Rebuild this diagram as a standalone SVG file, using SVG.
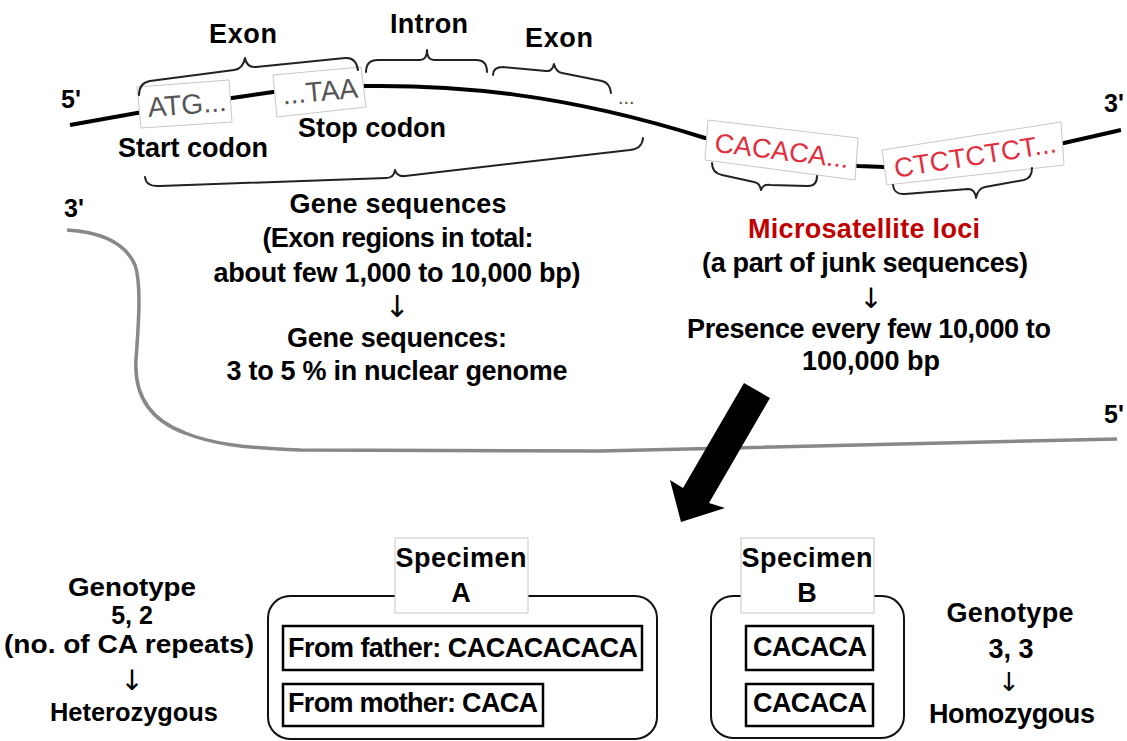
<svg xmlns="http://www.w3.org/2000/svg" width="1127" height="741" viewBox="0 0 1127 741">
<style>
text{font-family:"Liberation Sans",Arial,sans-serif;}
.b{font-weight:bold;font-size:27px;fill:#000;}
.s{font-weight:bold;font-size:25px;fill:#000;}
.m{text-anchor:middle;}
.end{font-weight:bold;font-size:25px;fill:#000;}
.seq{font-size:28px;fill:#555;}
.red{font-size:27px;fill:#e0303f;}
.brace{fill:none;stroke:#222;stroke-width:2;stroke-linejoin:round;stroke-linecap:round;}
.sbox{fill:#fff;stroke:#c8c8c8;stroke-width:1;}
.outer{fill:none;stroke:#111;stroke-width:2;}
.inner{fill:#fff;stroke:#000;stroke-width:2.5;}
.arr{font-family:"DejaVu Sans",sans-serif;fill:#000;text-anchor:middle;}
</style>

<g id="strands">
  <path d="M70,125 L137,113 L232,98 L273,92 L366,86 C450,85 560,92 705,138 L858,166 L884,167 L1064,143 L1121,130" fill="none" stroke="#000" stroke-width="4" stroke-linejoin="round"/>
  <path d="M67,230 C100,232 125,242 135,265 C142,285 138,330 136,360 C134,395 150,420 185,433 C210,443 240,448 300,450 L600,451 L1117,439" fill="none" stroke="#888" stroke-width="3.5"/>
</g>

<g id="end-labels">
  <text class="end" x="61" y="108">5'</text>
  <text class="end" x="1104" y="112">3'</text>
  <text class="end" x="64" y="217">3'</text>
  <text class="end" x="1104" y="423">5'</text>
</g>

<g id="atg">
  <polygon class="sbox" points="137,87 229,80 232,122 141,128"/>
  <text class="seq m" x="187" y="114" transform="rotate(-4.3 187 104)">ATG...</text>
</g>
<g id="taa">
  <polygon class="sbox" points="273,75 361,67 366,107 277,117"/>
  <text class="seq m" x="320" y="101" transform="rotate(-5.2 320 91)">...TAA</text>
</g>
<g id="ca-repeat">
  <polygon class="sbox" points="708,120 858,138 855,180 705,160"/>
  <text class="red m" x="782" y="160" transform="rotate(7 782 150)">CACACA...</text>
</g>
<g id="ct-repeat">
  <polygon class="sbox" points="882,150 1061,122 1064,165 887,185"/>
  <text class="red m" x="975" y="165" transform="rotate(-9 975 155)">CTCTCTCT...</text>
</g>
<text x="618" y="104" font-size="20" fill="#555">...</text>

<g id="braces">
  <path class="brace" d="M139,95 Q139,83 150,81 L234,70 Q243,69 245,58 Q247,68 256,67 L345,58 Q356,57 358,70"/>
  <path class="brace" d="M366,72 Q366,60 378,60 L420,60 Q427,60 427,50 Q427,60 434,60 L476,60 Q487,60 487,72"/>
  <path class="brace" d="M493,75 Q493,67 503,67 L546,71 Q552,72 554,64 Q556,72 562,73 L602,81 Q610,83 611,93"/>
  <path class="brace" d="M145,177 Q146,187 160,186 L386,178 Q394,178 395,170 Q397,177 405,176 L630,150 Q642,149 643,138"/>
  <path class="brace" d="M712,163 Q712,173 722,175 L754,182 Q760,183 761,190 Q763,184 770,185 L808,186 Q817,186 817,176"/>
  <path class="brace" d="M893,185 Q894,195 905,194 L968,189 Q975,189 976,198 Q978,188 985,187 L1024,180 Q1032,178 1032,168"/>
</g>

<g id="region-labels">
  <text class="b m" x="243" y="43" textLength="68">Exon</text>
  <text class="b m" x="429" y="33" textLength="78">Intron</text>
  <text class="b m" x="559" y="47" textLength="68">Exon</text>
  <text class="b m" x="193" y="157" textLength="150">Start codon</text>
  <text class="b m" x="372" y="137" textLength="148">Stop codon</text>
</g>

<g id="gene-info">
  <text class="b m" x="398" y="213" textLength="217">Gene sequences</text>
  <text class="b m" x="398" y="247" textLength="271">(Exon regions in total:</text>
  <text class="b m" x="397" y="282" textLength="367">about few 1,000 to 10,000 bp)</text>
  <text class="arr" x="397" y="317" font-size="30">↓</text>
  <text class="b m" x="397" y="347" textLength="220">Gene sequences:</text>
  <text class="b m" x="397" y="380" textLength="341">3 to 5 % in nuclear genome</text>
</g>

<g id="microsat-info">
  <text class="b m" x="864" y="238" textLength="232" style="fill:#c00000">Microsatellite loci</text>
  <text class="b m" x="865" y="272" textLength="326">(a part of junk sequences)</text>
  <text class="arr" x="871" y="308" font-size="28">↓</text>
  <text class="b m" x="869" y="338" textLength="364">Presence every few 10,000 to</text>
  <text class="b m" x="871" y="370" textLength="138">100,000 bp</text>
</g>

<g id="connectors">
  <polygon points="744,383 770,398 709,503 725,508 681,522 670,480 683,488" fill="#000"/>
</g>

<g id="genotype-a">
  <text class="s m" x="132" y="596" textLength="128" lengthAdjust="spacingAndGlyphs">Genotype</text>
  <text class="s m" x="132" y="624">5, 2</text>
  <text class="s m" x="129" y="653" textLength="250" lengthAdjust="spacingAndGlyphs">(no. of CA repeats)</text>
  <text class="arr" x="132" y="690" font-size="28">↓</text>
  <text class="s m" x="134" y="721" textLength="168" lengthAdjust="spacingAndGlyphs">Heterozygous</text>
</g>

<g id="specimen-a">
  <rect class="outer" x="268" y="596" width="389" height="143" rx="22"/>
  <rect class="sbox" x="395" y="538" width="133" height="75"/>
  <text class="b m" x="461" y="567" textLength="131">Specimen</text>
  <text class="b m" x="461" y="602">A</text>
  <rect class="inner" x="283" y="626" width="359" height="44"/>
  <text class="b" x="288" y="657" textLength="350">From father: CACACACACA</text>
  <rect class="inner" x="283" y="684" width="260" height="42"/>
  <text class="b" x="288" y="712" textLength="250">From mother: CACA</text>
</g>

<g id="specimen-b">
  <rect class="outer" x="711" y="596" width="193" height="142" rx="22"/>
  <rect class="sbox" x="741" y="538" width="133" height="75"/>
  <text class="b m" x="807" y="567" textLength="131">Specimen</text>
  <text class="b m" x="807" y="602">B</text>
  <rect class="inner" x="746" y="626" width="127" height="44"/>
  <text class="b" x="753" y="656" textLength="114">CACACA</text>
  <rect class="inner" x="746" y="684" width="127" height="42"/>
  <text class="b" x="753" y="712" textLength="114">CACACA</text>
</g>

<g id="genotype-b">
  <text class="b m" x="1010" y="622" textLength="127">Genotype</text>
  <text class="b m" x="1011" y="658">3, 3</text>
  <text class="arr" x="1009" y="691" font-size="26">↓</text>
  <text class="b m" x="1012" y="723" textLength="166">Homozygous</text>
</g>
</svg>
